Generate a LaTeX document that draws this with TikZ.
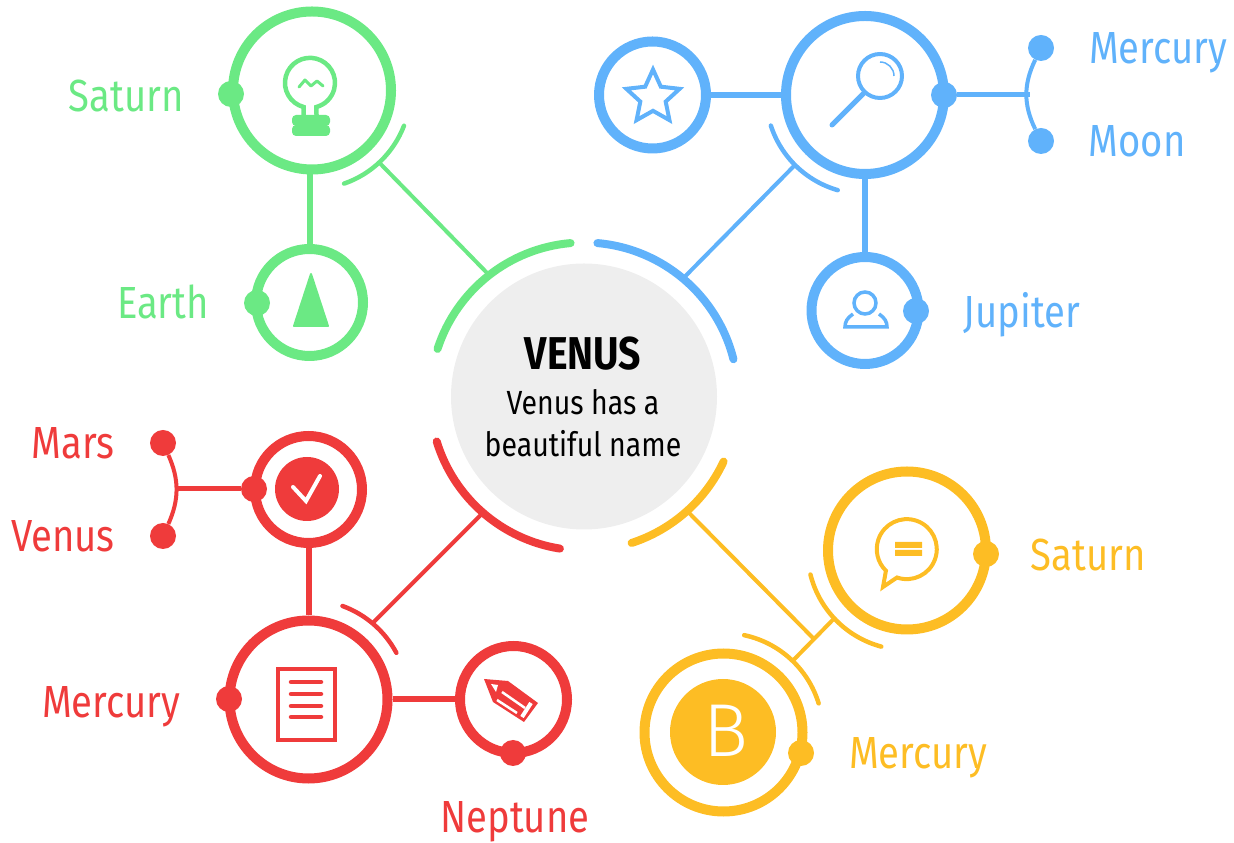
\documentclass[tikz,border=0pt]{standalone}
\usepackage{fontspec}
\setmainfont{Fira Sans}[FakeStretch=0.85]
\newfontfamily\bigletter{Fira Sans Light}
\usetikzlibrary{shapes.geometric}
\definecolor{mygreen}{HTML}{6BE984}
\definecolor{myblue}{HTML}{60B2FB}
\definecolor{myred}{HTML}{EF3B3B}
\definecolor{myyellow}{HTML}{FDBD24}
\definecolor{mygrey}{HTML}{EEEEEE}
\tikzset{
	bigring/.style={circle,draw=#1,line width=10pt,minimum size=158pt,inner sep=0pt},
	smallring/.style={circle,draw=#1,line width=10pt,minimum size=107pt,inner sep=0pt},
	knob/.style={circle,fill=#1,minimum size=26pt,inner sep=0pt},
	stem/.style={draw=#1,line width=6pt},
	spoke/.style={draw=#1,line width=4pt},
	hubarc/.style={draw=#1,line width=8pt,line cap=round},
	sidearc/.style={draw=#1,line width=4.5pt,line cap=round},
	tag/.style={text=#1,anchor=base,font=\fontsize{45}{54}\selectfont,inner sep=0pt},
}
\begin{document}
\begin{tikzpicture}[x=1pt,y=1pt] % hub with four coloured groups
\useasboundingbox (0,0) rectangle (1234,843);
\node[circle,fill=mygrey,minimum size=266pt,inner sep=0pt] (venus) at (584,446.5) {};
\node[anchor=base,inner sep=0pt,font=\bfseries\fontsize{46}{50}\selectfont] (venusTitle) at (583,473) {VENUS};
\node[anchor=base,inner sep=0pt,font=\fontsize{33.5}{40}\selectfont] (venusLineA) at (583,428) {Venus has a};
\node[anchor=base,inner sep=0pt,font=\fontsize{33.5}{40}\selectfont] (venusLineB) at (583,386) {beautiful name};
\draw[hubarc=mygreen] ([shift={(95:154)}]venus.center) arc[start angle=95,end angle=162,radius=154pt];
\draw[hubarc=myblue] ([shift={(85:154)}]venus.center) arc[start angle=85,end angle=14,radius=154pt];
\draw[hubarc=myred] ([shift={(197:154)}]venus.center) arc[start angle=197,end angle=261,radius=154pt];
\draw[hubarc=myyellow] ([shift={(-25:154)}]venus.center) arc[start angle=-25,end angle=-72,radius=154pt];
\coordinate (hubGreen) at ([shift={(128:154)}]venus.center);
\coordinate (hubBlue) at ([shift={(50:154)}]venus.center);
\coordinate (hubRed) at ([shift={(229:154)}]venus.center);
\coordinate (hubYellow) at ([shift={(-48:154)}]venus.center);

% green
\node[bigring=mygreen] (bulb) at (312,752.5) {};
\node[smallring=mygreen] (arrow) at (309.5,540.5) {};
\node[knob=mygreen] (bulbKnob) at (231,749) {};
\node[knob=mygreen] (arrowKnob) at (257,540) {};
\node[tag=mygreen] (bulbTag) at (126,731.5) {Saturn};
\node[tag=mygreen] (arrowTag) at (163,524.5) {Earth};
\draw[stem=mygreen] (arrow) -- (arrow |- bulb.south);
\draw[sidearc=mygreen] ([shift={(-21:98.5)}]bulb.center) arc[start angle=-21,end angle=-71,radius=98.5pt];
\coordinate (sideGreen) at ([shift={(-47:98.5)}]bulb.center);
\draw[spoke=mygreen] (hubGreen) -- (sideGreen);
\draw[mygreen,line width=4.5pt] (303.5,728) -- (303.5,736) arc[start angle=-105,end angle=-435,radius=25pt] -- (316.5,728);
\fill[mygreen,rounded corners=4pt] (292,717) rectangle (330,728);
\fill[mygreen,rounded corners=4pt] (292,707) rectangle (330,718);
\draw[mygreen,line width=3pt,line cap=round,line join=round] (299,756) -- (305,763) -- (311,757) -- (317,762) -- (323,757);
\fill[mygreen,draw=mygreen,line width=2pt,line join=round] (311,569) -- (294,517) -- (328,517) -- cycle;

% blue
\node[bigring=myblue] (lens) at (865,748) {};
\node[smallring=myblue] (star) at (652.5,748) {};
\node[smallring=myblue] (person) at (865,532.5) {};
\node[knob=myblue] (lensKnob) at (944,748) {};
\node[knob=myblue] (personKnob) at (916,532) {};
\node[knob=myblue] (forkTopBlue) at (1041,795) {};
\node[knob=myblue] (forkLowBlue) at (1041,702) {};
\coordinate (forkBlue) at (1030,748);
\node[tag=myblue] (forkTopTag) at (1158,779.5) {Mercury};
\node[tag=myblue] (forkLowTag) at (1137,686.5) {Moon};
\node[tag=myblue] (personTag) at (1022,515.5) {Jupiter};
\draw[stem=myblue] (star) -- (lens);
\draw[stem=myblue] (lens) -- (person);
\draw[draw=myblue,line width=5pt] (lensKnob) -- (forkBlue);
\draw[draw=myblue,line width=4pt] (forkTopBlue) to[bend right=26] (forkLowBlue);
\draw[sidearc=myblue] ([shift={(198:99)}]lens.center) arc[start angle=198,end angle=254,radius=99pt];
\coordinate (sideBlue) at ([shift={(225:99)}]lens.center);
\draw[spoke=myblue] (hubBlue) -- (sideBlue);
\draw[myblue,line width=4pt] (880,767) circle[radius=22pt];
\draw[myblue,line width=1.5pt] (880,781) arc[start angle=90,end angle=0,radius=14pt];
\draw[myblue,line width=5pt,line cap=round] (864,750) -- (832,718);
\node[star,star points=5,star point ratio=2.1,draw=myblue,line width=4pt,minimum size=56pt,inner sep=0pt] (starIcon) at (653,745.5) {};
\draw[myblue,line width=3.5pt] (865,540) circle[radius=11pt];
\draw[myblue,line width=3.5pt] (853,529) .. controls (847,525) and (845,521) .. (845,516) -- (887,516) .. controls (887,521) and (885,525) .. (879,529);

% red
\node[smallring=myred] (check) at (308.5,353.5) {};
\node[bigring=myred] (sheet) at (308.5,143.5) {};
\node[smallring=myred] (pencil) at (513.5,143.5) {};
\node[knob=myred] (checkKnob) at (254,354) {};
\node[knob=myred] (sheetKnob) at (229,144) {};
\node[knob=myred] (pencilKnob) at (513,90) {};
\node[knob=myred] (forkTopRed) at (163,400) {};
\node[knob=myred] (forkLowRed) at (163,307) {};
\coordinate (forkRed) at (175,354);
\node[tag=myred] (forkTopRedTag) at (73,384.5) {Mars};
\node[tag=myred] (forkLowRedTag) at (63,291.5) {Venus};
\node[tag=myred] (sheetTag) at (111,125.5) {Mercury};
\node[tag=myred] (pencilTag) at (515,10.5) {Neptune};
\draw[stem=myred] (check) -- (sheet);
\draw[stem=myred] (sheet) -- (pencil);
\draw[draw=myred,line width=5pt] (checkKnob) -- (forkRed);
\draw[draw=myred,line width=4pt] (forkTopRed) to[bend left=24] (forkLowRed);
\draw[sidearc=myred] ([shift={(70:99.5)}]sheet.center) arc[start angle=70,end angle=28,radius=99.5pt];
\coordinate (sideRed) at ([shift={(50:99.5)}]sheet.center);
\draw[spoke=myred] (hubRed) -- (sideRed);
\node[circle,fill=myred,minimum size=64pt,inner sep=0pt] (checkDisc) at (307,354) {};
\draw[white,line width=4pt,line cap=round] (293,356) -- (306,342) -- (320,367);
\draw[myred,line width=4.5pt] (278,103) rectangle (335,174);
\draw[myred,line width=4.5pt,line cap=round] (291,161) -- (321,161) (291,149) -- (321,149) (291,137) -- (321,137) (291,126) -- (321,126);
\fill[myred] (484,164) -- (508,162) -- (538,140) -- (524,121) -- (493,141) -- cycle;
\fill[white] (491,159) -- (498,158) -- (496,151) -- cycle;
\draw[white,line width=2.5pt] (502,151) -- (525,135) (497,143) -- (517,130);
\draw[white,line width=4pt] (531,140) -- (522,126);

% yellow
\node[bigring=myyellow] (chat) at (907,292.5) {};
\node[bigring=myyellow] (bold) at (723.5,110.5) {};
\node[knob=myyellow] (chatKnob) at (986,289) {};
\node[knob=myyellow] (boldKnob) at (801,90) {};
\node[tag=myyellow] (chatTag) at (1088,272.5) {Saturn};
\node[tag=myyellow] (boldTag) at (918,74.5) {Mercury};
\draw[sidearc=myyellow] ([shift={(194:99.5)}]chat.center) arc[start angle=194,end angle=255,radius=99.5pt];
\draw[sidearc=myyellow] ([shift={(78:99.5)}]bold.center) arc[start angle=78,end angle=17,radius=99.5pt];
\coordinate (sideChat) at ([shift={(223:99.5)}]chat.center);
\coordinate (sideBold) at ([shift={(46:99.5)}]bold.center);
\coordinate (sideMeet) at (813,205);
\draw[spoke=myyellow] (sideChat) -- (sideBold);
\draw[spoke=myyellow] (hubYellow) -- (sideMeet);
\draw[myyellow,line width=4pt] (897,265.5) arc[start angle=251,end angle=586,radius=30pt] -- (883,256) -- cycle;
\fill[myyellow] (895,295) rectangle (922,301) (895,287) rectangle (922,293);
\node[circle,fill=myyellow,minimum size=106pt,inner sep=0pt] (boldDisc) at (723,111) {};
\node[text=white,inner sep=0pt,font=\bigletter\fontsize{75}{75}\selectfont] (boldLetter) at (726,112) {B};
\end{tikzpicture}
\end{document}
